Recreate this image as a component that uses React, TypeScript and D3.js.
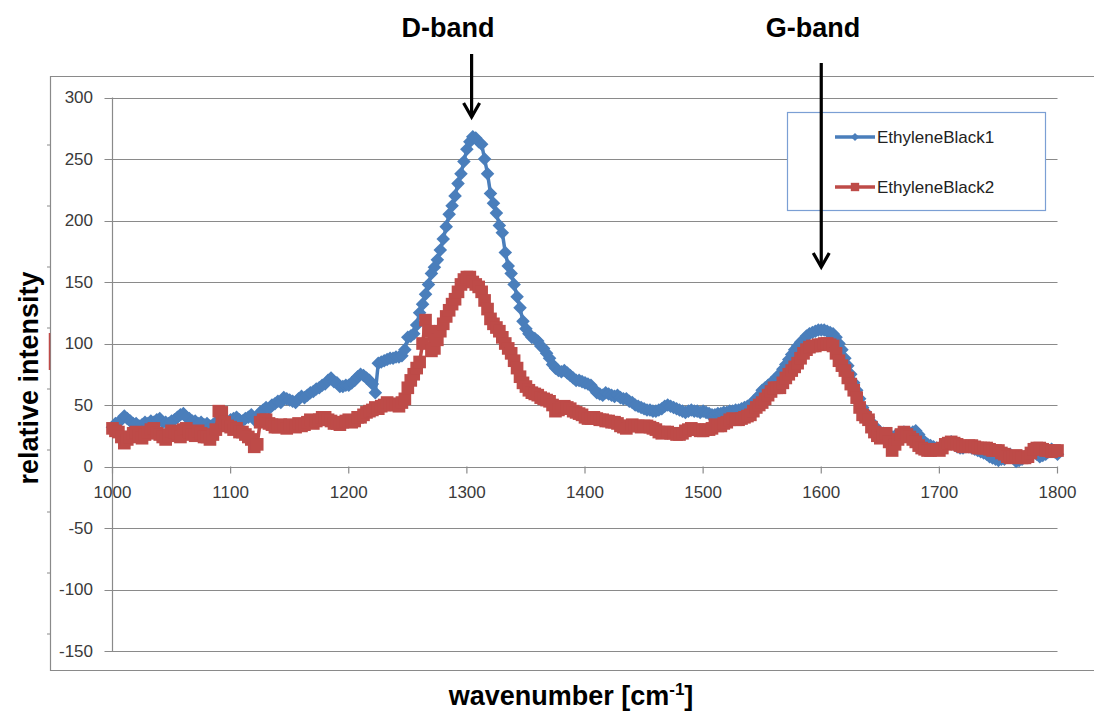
import React from 'react';
import * as d3 from 'd3';

// Wavenumber grid (cm^-1), 1000..1800 step 2.5
const wavenumbers: number[] = d3.range(1000, 1800.1, 2.5);

// EthyleneBlack1 (blue) relative intensity, one row per 50 cm^-1
const ethyleneBlack1: number[] = [
  32, 35, 36, 38, 41, 39, 37, 35, 35, 33, 34, 36, 35, 37, 36, 38, 39, 36, 36, 35,
  37, 38, 40, 42, 43, 40, 39, 37, 37, 35, 36, 34, 35, 33, 34, 36, 37, 35, 37, 36,
  38, 39, 40, 38, 37, 39, 40, 42, 38, 41, 44, 46, 48, 47, 50, 51, 53, 52, 56, 55,
  54, 53, 52, 55, 57, 56, 58, 60, 61, 63, 64, 66, 67, 70, 72, 69, 68, 65, 65, 66,
  66, 68, 70, 73, 75, 74, 72, 70, 67, 60, 84, 85, 86, 87, 88, 88, 89, 89, 90, 95,
  105, 106, 108, 115, 125, 132, 140, 148, 157, 162, 168, 176, 185, 195, 205, 212, 220, 230, 238, 248,
  258, 264, 268, 267, 264, 262, 250, 238, 222, 214, 206, 196, 190, 174, 163, 157, 148, 138, 129, 118,
  112, 108, 105, 104, 102, 98, 96, 92, 88, 83, 80, 78, 77, 78, 76, 74, 72, 70, 70, 69,
  68, 67, 66, 63, 60, 59, 58, 60, 59, 58, 57, 58, 56, 55, 55, 53, 52, 50, 49, 48,
  47, 46, 46, 45, 45, 46, 47, 49, 50, 49, 48, 47, 46, 45, 44, 45, 46, 45, 45, 44,
  45, 44, 43, 42, 42, 43, 43, 44, 44, 45, 45, 46, 46, 47, 48, 49, 50, 53, 55, 58,
  62, 64, 66, 68, 70, 73, 75, 79, 83, 87, 91, 95, 98, 101, 103, 106, 108, 109, 110, 111,
  111, 111, 110, 109, 108, 105, 100, 95, 88, 82, 75, 68, 62, 55, 48, 44, 40, 36, 33, 30,
  28, 27, 26, 25, 24, 25, 25, 27, 28, 27, 27, 28, 29, 26, 22, 20, 18, 17, 16, 15,
  14, 16, 18, 19, 20, 18, 16, 15, 15, 16, 16, 15, 14, 13, 12, 11, 10, 8, 7, 6,
  5, 6, 6, 8, 10, 7, 4, 5, 6, 8, 10, 11, 12, 10, 8, 9, 10, 12, 14, 12,
  10,
];

// EthyleneBlack2 (red) relative intensity, one row per 50 cm^-1
const ethyleneBlack2: number[] = [
  31, 29, 28, 24, 19, 22, 24, 27, 28, 25, 23, 26, 28, 30, 31, 27, 26, 24, 22, 25,
  29, 28, 27, 24, 30, 31, 28, 26, 25, 29, 27, 24, 24, 22, 26, 30, 45, 44, 36, 33,
  32, 30, 31, 28, 28, 26, 24, 22, 16, 18, 36, 38, 38, 35, 34, 32, 32, 34, 33, 31,
  34, 33, 32, 35, 33, 34, 36, 38, 35, 37, 38, 40, 40, 38, 37, 35, 35, 34, 36, 37,
  38, 36, 37, 40, 40, 42, 44, 45, 46, 48, 47, 49, 50, 52, 51, 50, 50, 49, 52, 55,
  64, 70, 75, 80, 85, 100, 119, 110, 94, 96, 103, 110, 116, 122, 127, 132, 136, 142, 148, 152,
  154, 154, 150, 148, 146, 142, 135, 128, 120, 116, 113, 110, 105, 100, 96, 92, 86, 80, 73, 68,
  65, 62, 60, 59, 58, 56, 55, 54, 53, 50, 45, 46, 48, 49, 48, 47, 45, 44, 43, 42,
  40, 39, 39, 40, 39, 38, 38, 37, 37, 36, 36, 35, 33, 32, 31, 33, 34, 33, 33, 32,
  33, 33, 32, 31, 30, 28, 27, 28, 28, 27, 27, 26, 26, 27, 29, 30, 31, 30, 30, 29,
  29, 30, 30, 31, 34, 33, 33, 35, 36, 38, 39, 38, 38, 39, 40, 41, 42, 45, 48, 50,
  52, 55, 58, 61, 64, 64, 64, 68, 72, 75, 78, 81, 84, 88, 92, 95, 97, 98, 98, 99,
  99, 100, 100, 99, 98, 92, 86, 82, 78, 72, 67, 62, 56, 48, 42, 40, 38, 32, 28, 25,
  23, 25, 27, 20, 13, 18, 22, 26, 28, 26, 24, 22, 20, 17, 15, 14, 13, 13, 14, 14,
  13, 15, 18, 19, 20, 19, 18, 17, 16, 16, 17, 17, 16, 15, 15, 15, 15, 14, 13, 13,
  13, 11, 10, 8, 7, 8, 9, 8, 7, 7, 8, 11, 14, 15, 15, 14, 13, 13, 12, 13,
  13,
];

const seriesNames = ['EthyleneBlack1', 'EthyleneBlack2'];
const xTicks = [1000, 1100, 1200, 1300, 1400, 1500, 1600, 1700, 1800];
const yTicks = [-150, -100, -50, 0, 50, 100, 150, 200, 250, 300];
const bandLabels = ['D-band', 'G-band'];
const bandPositions = [1304, 1600];

const W = 1094;
const H = 715;
const BLUE = '#4a7ebb';
const RED = '#be4b48';
const GRID = '#8a8a8a';
const FONT = '"Liberation Sans", Arial, sans-serif';

export default function App() {
  const x = d3.scaleLinear().domain([1000, 1800]).range([112.5, 1057.5]);
  const y = d3.scaleLinear().domain([-150, 300]).range([651, 97.5]);

  const line = d3
    .line<number>()
    .x((_, i) => x(wavenumbers[i]))
    .y((d) => y(d));

  const diamond = d3.symbol().type(d3.symbolSquare).size(92)() as string;
  const square = d3.symbol().type(d3.symbolSquare).size(160)() as string;
  const legDiamond = d3.symbol().type(d3.symbolSquare).size(34)() as string;
  const legSquare = d3.symbol().type(d3.symbolSquare).size(70)() as string;

  const series = [
    { name: seriesNames[0], values: ethyleneBlack1, color: BLUE, marker: diamond, rot: 45 },
    { name: seriesNames[1], values: ethyleneBlack2, color: RED, marker: square, rot: 0 },
  ];

  const outerTicks = [145, 206, 267, 328, 389, 450, 512, 573, 634];

  return (
    <svg
      width={W}
      height={H}
      style={{ position: 'absolute', left: 0, top: 0, background: '#fff' }}
    >
      <rect x={0} y={0} width={W} height={H} fill="#fff" />
      {/* outer chart frame */}
      <path d={`M${W},76.5 H50.5 V670.5 H${W}`} fill="none" stroke={GRID} strokeWidth={1.2} />
      {outerTicks.map((t) => (
        <line key={t} x1={47} x2={50.5} y1={t} y2={t} stroke={GRID} strokeWidth={1} />
      ))}
      <line x1={49.5} x2={49.5} y1={333} y2={370} stroke={RED} strokeWidth={1.5} />

      {/* gridlines */}
      {yTicks.map((t) => (
        <line
          key={t}
          x1={x(1000) - 8}
          x2={x(1800)}
          y1={Math.round(y(t)) + 0.5}
          y2={Math.round(y(t)) + 0.5}
          stroke={GRID}
          strokeWidth={1.2}
        />
      ))}
      {/* y axis */}
      <line x1={x(1000)} x2={x(1000)} y1={y(300)} y2={y(-150)} stroke={GRID} strokeWidth={1.2} />
      {/* x axis ticks */}
      {xTicks.map((t) => (
        <line key={t} x1={x(t)} x2={x(t)} y1={y(0)} y2={y(0) + 7} stroke={GRID} strokeWidth={1.2} />
      ))}
      {yTicks.map((t) => (
        <text
          key={t}
          x={93}
          y={y(t)}
          dy="0.35em"
          textAnchor="end"
          fontFamily={FONT}
          fontSize={17}
          fill="#3a3a3a"
        >
          {t}
        </text>
      ))}
      {xTicks.map((t) => (
        <text
          key={t}
          x={x(t)}
          y={y(0) + 26}
          dy="0.35em"
          textAnchor="middle"
          fontFamily={FONT}
          fontSize={17}
          fill="#3a3a3a"
        >
          {t}
        </text>
      ))}

      {/* series */}
      {series.map((s) => (
        <g key={s.name}>
          <path d={line(s.values) as string} fill="none" stroke={s.color} strokeWidth={3.5} />
          {s.values.map((v, i) => (
            <path
              key={i}
              d={s.marker}
              transform={`translate(${x(wavenumbers[i])},${y(v)}) rotate(${s.rot})`}
              fill={s.color}
            />
          ))}
        </g>
      ))}

      {/* legend */}
      <rect x={787.5} y={112.5} width={258} height={98} fill="#fff" stroke="#7b9fd4" strokeWidth={1.2} />
      {series.map((s, i) => {
        const ly = 137 + i * 50;
        return (
          <g key={s.name}>
            <line x1={835} x2={875} y1={ly} y2={ly} stroke={s.color} strokeWidth={3.5} />
            <path
              d={i === 0 ? legDiamond : legSquare}
              transform={`translate(855,${ly}) rotate(${s.rot})`}
              fill={s.color}
            />
            <text x={877} y={ly} dy="0.35em" fontFamily={FONT} fontSize={17} fill="#222">
              {s.name}
            </text>
          </g>
        );
      })}

      {/* band annotations */}
      <text x={448} y={37} textAnchor="middle" fontFamily={FONT} fontWeight="bold" fontSize={27} fill="#000">
        {bandLabels[0]}
      </text>
      <text x={813} y={37} textAnchor="middle" fontFamily={FONT} fontWeight="bold" fontSize={27} fill="#000">
        {bandLabels[1]}
      </text>
      {[
        { wn: bandPositions[0], y1: 54, y2: 117 },
        { wn: bandPositions[1], y1: 63, y2: 267 },
      ].map((a) => {
        const ax = x(a.wn);
        return (
          <g key={a.wn} stroke="#000" strokeWidth={3.2} fill="none">
            <line x1={ax} x2={ax} y1={a.y1} y2={a.y2} />
            <path d={`M${ax - 8},${a.y2 - 14} L${ax},${a.y2} L${ax + 8},${a.y2 - 14}`} strokeLinejoin="miter" />
          </g>
        );
      })}

      {/* axis titles */}
      <text
        transform="translate(38,378) rotate(-90)"
        textAnchor="middle"
        fontFamily={FONT}
        fontWeight="bold"
        fontSize={27}
        fill="#000"
      >
        relative intensity
      </text>
      <text x={571} y={705} textAnchor="middle" fontFamily={FONT} fontWeight="bold" fontSize={27} fill="#000">
        wavenumber [cm
        <tspan dy={-10} fontSize={17}>-1</tspan>
        <tspan dy={10}>]</tspan>
      </text>
    </svg>
  );
}
